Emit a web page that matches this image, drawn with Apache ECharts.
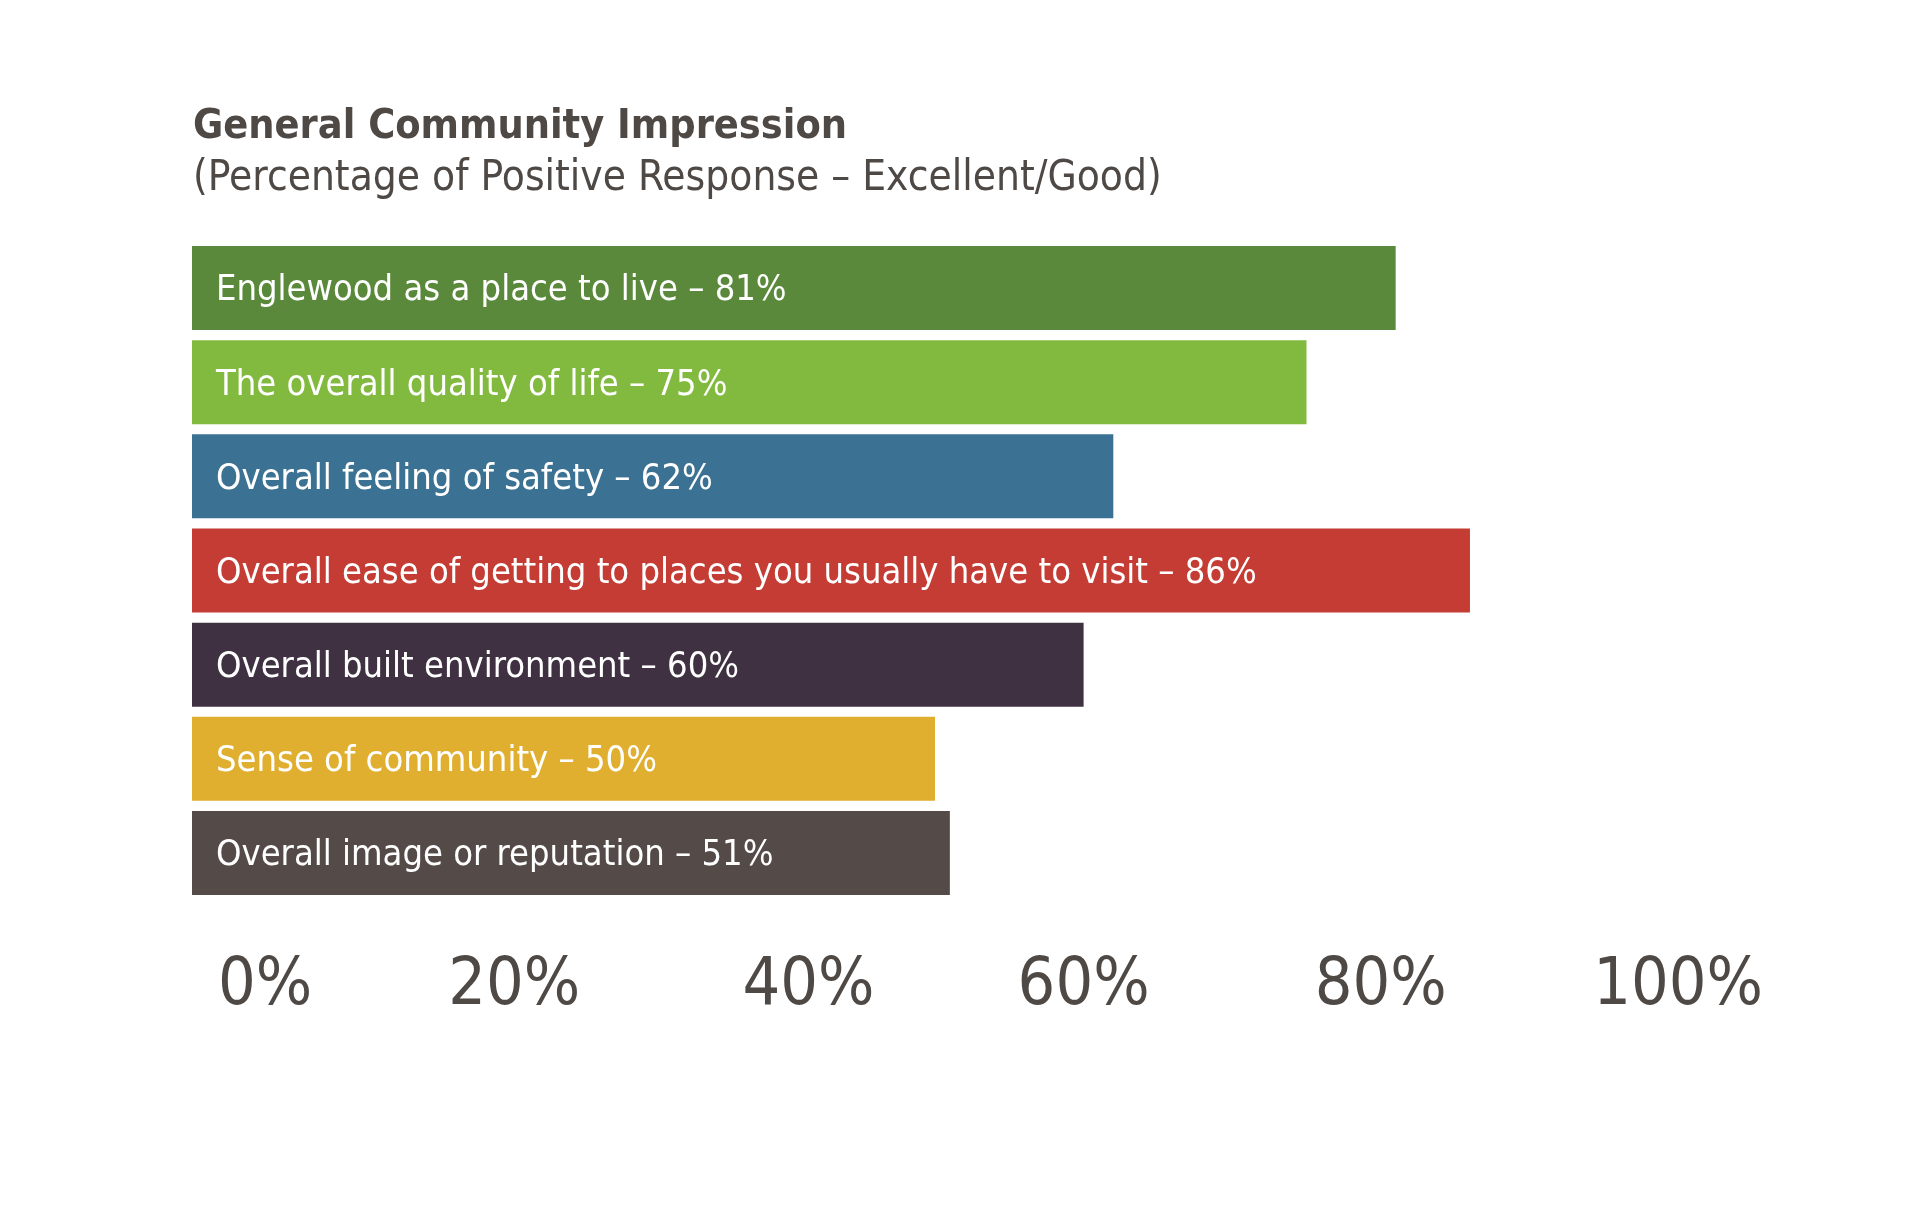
<!DOCTYPE html>
<html>
<head>
<meta charset="utf-8">
<script src="https://cdn.jsdelivr.net/npm/echarts@6/dist/echarts.min.js"></script>
<style>
html,body{margin:0;padding:0;background:#fff;}
#chart{width:1920px;height:1222px;}
</style>
</head>
<body>
<div id="chart"></div>
<script>
const categories = [
  "Englewood as a place to live",
  "The overall quality of life",
  "Overall feeling of safety",
  "Overall ease of getting to places you usually have to visit",
  "Overall built environment",
  "Sense of community",
  "Overall image or reputation"
];
const values = [81, 75, 62, 86, 60, 50, 51];
const barColors = ["#5b893b", "#82ba3f", "#3b7192", "#c43c33", "#3f3042", "#e0af2f", "#544b48"];
const tickValues = [0, 20, 40, 60, 80, 100];
const titleText = "General Community Impression";
const subtitleText = "(Percentage of Positive Response \u2013 Excellent/Good)";

const FONT = '"Liberation Sans Narrow", "DejaVu Sans Condensed", "Roboto Condensed", Roboto, sans-serif';
const textColor = "#4f4946";
const AX = 66;

const chart = echarts.init(document.getElementById('chart'), null, {renderer: 'canvas'});
const option = {
  backgroundColor: '#ffffff',
  animation: false,
  title: {
    text: titleText,
    subtext: subtitleText,
    left: 188,
    top: 102,
    itemGap: 10,
    textStyle: {fontFamily: FONT, fontSize: 41, fontWeight: 'bold', color: textColor},
    subtextStyle: {fontFamily: FONT, fontSize: 42, fontWeight: 'normal', color: textColor}
  },
  grid: {left: 192, top: 241, width: 1486, height: 659, containLabel: false},
  xAxis: {
    type: 'value',
    min: 0, max: 100, interval: 20,
    axisLine: {show: false},
    axisTick: {show: false},
    splitLine: {show: false},
    axisLabel: {
      margin: 54,
      color: textColor,
      fontFamily: FONT,
      fontSize: AX,
      formatter: function (v) { return '{t' + v + '|' + v + '%}'; },
      rich: {
        t0: {padding: [0, 0, 0, 146], fontFamily: FONT, fontSize: AX, color: textColor},
        t20: {padding: [0, 0, 0, 50], fontFamily: FONT, fontSize: AX, color: textColor},
        t40: {padding: [0, 0, 0, 44], fontFamily: FONT, fontSize: AX, color: textColor},
        t60: {fontFamily: FONT, fontSize: AX, color: textColor},
        t80: {fontFamily: FONT, fontSize: AX, color: textColor},
        t100: {fontFamily: FONT, fontSize: AX, color: textColor}
      }
    }
  },
  yAxis: {
    type: 'category',
    data: categories,
    inverse: true,
    axisLine: {show: false},
    axisTick: {show: false},
    axisLabel: {show: false},
    splitLine: {show: false}
  },
  series: [{
    type: 'bar',
    barWidth: 84,
    data: values.map((v, i) => ({value: v, itemStyle: {color: barColors[i]}})),
    label: {
      show: true,
      position: 'insideLeft',
      distance: 24,
      offset: [0, 3],
      color: '#ffffff',
      fontFamily: FONT,
      fontSize: 36,
      formatter: function (p) { return categories[p.dataIndex] + ' \u2013 ' + p.value + '%'; }
    }
  }]
};
chart.setOption(option);
</script>
</body>
</html>
